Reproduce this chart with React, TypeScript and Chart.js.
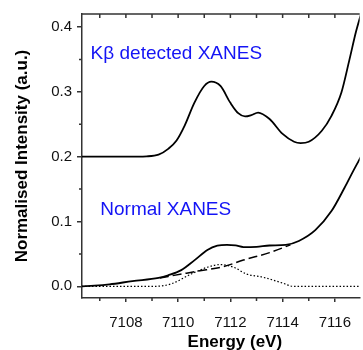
import React, { useEffect, useRef } from "react";
import { Chart, registerables } from "chart.js";

Chart.register(...registerables);

// Kβ-detected XANES (offset by 0.2)
const kbEnergy = [
  7106.3, 7108.0, 7108.8, 7109.25, 7109.62, 7109.94, 7110.25, 7110.62, 7111.0, 7111.27,
  7111.62, 7112.0, 7112.3, 7112.56, 7112.8, 7113.06, 7113.5, 7114.0, 7114.44, 7114.69,
  7115.0, 7115.5, 7115.87, 7116.25, 7116.56, 7116.81, 7117.0,
];
const kbIntensity = [
  0.2, 0.2, 0.2005, 0.203, 0.212, 0.225, 0.248, 0.283, 0.309, 0.3157,
  0.309, 0.283, 0.267, 0.262, 0.264, 0.268, 0.258, 0.235, 0.223, 0.221,
  0.223, 0.24, 0.263, 0.299, 0.35, 0.393, 0.42,
];

// Normal (total fluorescence) XANES
const normalEnergy = [
  7106.3, 7106.8, 7107.37, 7108.25, 7109.25, 7109.62, 7110.12, 7110.62, 7111.12, 7111.5,
  7111.87, 7112.2, 7112.5, 7113.0, 7113.5, 7114.12, 7114.62, 7115.25, 7115.87, 7116.37,
  7116.69, 7117.0,
];
const normalIntensity = [
  0, 0.001, 0.003, 0.008, 0.013, 0.017, 0.025, 0.04, 0.056, 0.0626,
  0.064, 0.063, 0.0605, 0.061, 0.063, 0.064, 0.07, 0.0866, 0.116, 0.152,
  0.177, 0.2,
];

// Edge background under the pre-edge
const edgeEnergy = [7109.3, 7109.62, 7110.75, 7111.74, 7112.5, 7113.5, 7114.3];
const edgeIntensity = [0.013, 0.0153, 0.0234, 0.0305, 0.0405, 0.052, 0.064];

// Extracted pre-edge peak
const preEdgeEnergy = [
  7106.3, 7109.1, 7109.75, 7110.5, 7111.12, 7111.62, 7112.12, 7112.62, 7113.25, 7114.0,
  7114.4, 7117.0,
];
const preEdgeIntensity = [
  0, 0, 0.004, 0.019, 0.0295, 0.0336, 0.0295, 0.019, 0.014, 0.005,
  0, 0,
];

const xMajorTicks = [7108, 7110, 7112, 7114, 7116];
const xMinorTicks = [7107, 7109, 7111, 7113, 7115];
const yMajorTicks = [0, 0.1, 0.2, 0.3, 0.4];
const yMinorTicks = [0.05, 0.15, 0.25, 0.35];

const FONT = "'Liberation Sans', Arial, Helvetica, sans-serif";
const AXIS = "#333333";
const LABEL_BLUE = "#1414f5";

const pairs = (xs: number[], ys: number[]) => xs.map((x, i) => ({ x, y: ys[i] }));

const framePlugin = {
  id: "frame",
  afterDraw(chart: any) {
    const { ctx, chartArea: a, scales } = chart;
    const x = scales.x;
    const y = scales.y;
    ctx.save();

    // top border with inward ticks, minor ticks on bottom and left
    ctx.strokeStyle = AXIS;
    ctx.lineWidth = 1.5;
    ctx.beginPath();
    ctx.moveTo(a.left - 0.75, a.top);
    ctx.lineTo(a.right, a.top);
    for (const v of [...xMajorTicks, ...xMinorTicks]) {
      const px = x.getPixelForValue(v);
      ctx.moveTo(px, a.top);
      ctx.lineTo(px, a.top + 4);
    }
    for (const v of xMinorTicks) {
      const px = x.getPixelForValue(v);
      ctx.moveTo(px, a.bottom);
      ctx.lineTo(px, a.bottom + 3);
    }
    for (const v of yMinorTicks) {
      const py = y.getPixelForValue(v);
      ctx.moveTo(a.left, py);
      ctx.lineTo(a.left - 3, py);
    }
    ctx.stroke();

    // axis titles
    ctx.fillStyle = "#000";
    ctx.font = `bold 17px ${FONT}`;
    ctx.textAlign = "center";
    ctx.textBaseline = "alphabetic";
    ctx.fillText("Energy (eV)", (a.left + a.right) / 2 + 14, a.bottom + 49);

    ctx.save();
    ctx.translate(22, (a.top + a.bottom) / 2);
    ctx.rotate(-Math.PI / 2);
    ctx.textBaseline = "middle";
    ctx.fillText("Normalised Intensity (a.u.)", 0, 0);
    ctx.restore();

    // curve labels
    ctx.fillStyle = LABEL_BLUE;
    ctx.font = `19px ${FONT}`;
    ctx.textAlign = "left";
    ctx.textBaseline = "middle";
    ctx.fillText("Kβ detected XANES", x.getPixelForValue(7106.65), y.getPixelForValue(0.359));
    ctx.fillText("Normal XANES", x.getPixelForValue(7107.02), y.getPixelForValue(0.1177));

    ctx.restore();
  },
};

export default function App() {
  const canvasRef = useRef<HTMLCanvasElement | null>(null);

  useEffect(() => {
    const canvas = canvasRef.current;
    if (!canvas) return;

    const lineBase = {
      pointRadius: 0,
      borderColor: "#000",
      fill: false,
      cubicInterpolationMode: "monotone" as const,
    };

    const chart = new Chart(canvas, {
      type: "line",
      data: {
        datasets: [
          { ...lineBase, label: "Kβ detected XANES", data: pairs(kbEnergy, kbIntensity), borderWidth: 1.8 },
          { ...lineBase, label: "Normal XANES", data: pairs(normalEnergy, normalIntensity), borderWidth: 1.8 },
          {
            ...lineBase,
            label: "Edge",
            data: pairs(edgeEnergy, edgeIntensity),
            borderWidth: 1.5,
            borderDash: [9, 4],
          },
          {
            ...lineBase,
            label: "Pre-edge",
            data: pairs(preEdgeEnergy, preEdgeIntensity),
            borderWidth: 1.2,
            borderDash: [1.5, 2],
          },
        ],
      },
      options: {
        animation: false,
        responsive: true,
        maintainAspectRatio: false,
        layout: { padding: { top: 11, right: 0, bottom: 0, left: 0 } },
        plugins: {
          legend: { display: false },
          tooltip: { enabled: false },
        },
        scales: {
          x: {
            type: "linear",
            min: 7106.32,
            max: 7116.95,
            afterBuildTicks: (s: any) => {
              s.ticks = xMajorTicks.map((v) => ({ value: v }));
            },
            afterFit: (s: any) => {
              s.height = 52;
            },
            grid: {
              display: true,
              drawOnChartArea: false,
              drawTicks: true,
              tickLength: 4,
              color: AXIS,
              lineWidth: 1.5,
            },
            border: { display: true, color: AXIS, width: 1.5 },
            ticks: {
              font: { family: FONT, size: 15 },
              color: "#111",
              padding: 12,
              maxRotation: 0,
              callback: (v: any) => String(v),
            },
          },
          y: {
            type: "linear",
            min: -0.018,
            max: 0.42,
            afterBuildTicks: (s: any) => {
              s.ticks = yMajorTicks.map((v) => ({ value: v }));
            },
            afterFit: (s: any) => {
              s.width = 82;
            },
            grid: {
              display: true,
              drawOnChartArea: false,
              drawTicks: true,
              tickLength: 5,
              color: AXIS,
              lineWidth: 1.5,
            },
            border: { display: true, color: AXIS, width: 1.5 },
            ticks: {
              font: { family: FONT, size: 15 },
              color: "#111",
              padding: 5,
              callback: (v: any) => Number(v).toFixed(1),
            },
          },
        },
      },
      plugins: [framePlugin],
    });

    return () => chart.destroy();
  }, []);

  return (
    <div style={{ position: "fixed", left: 0, top: 0, width: 363, height: 350, background: "#fff" }}>
      <canvas ref={canvasRef} />
    </div>
  );
}
